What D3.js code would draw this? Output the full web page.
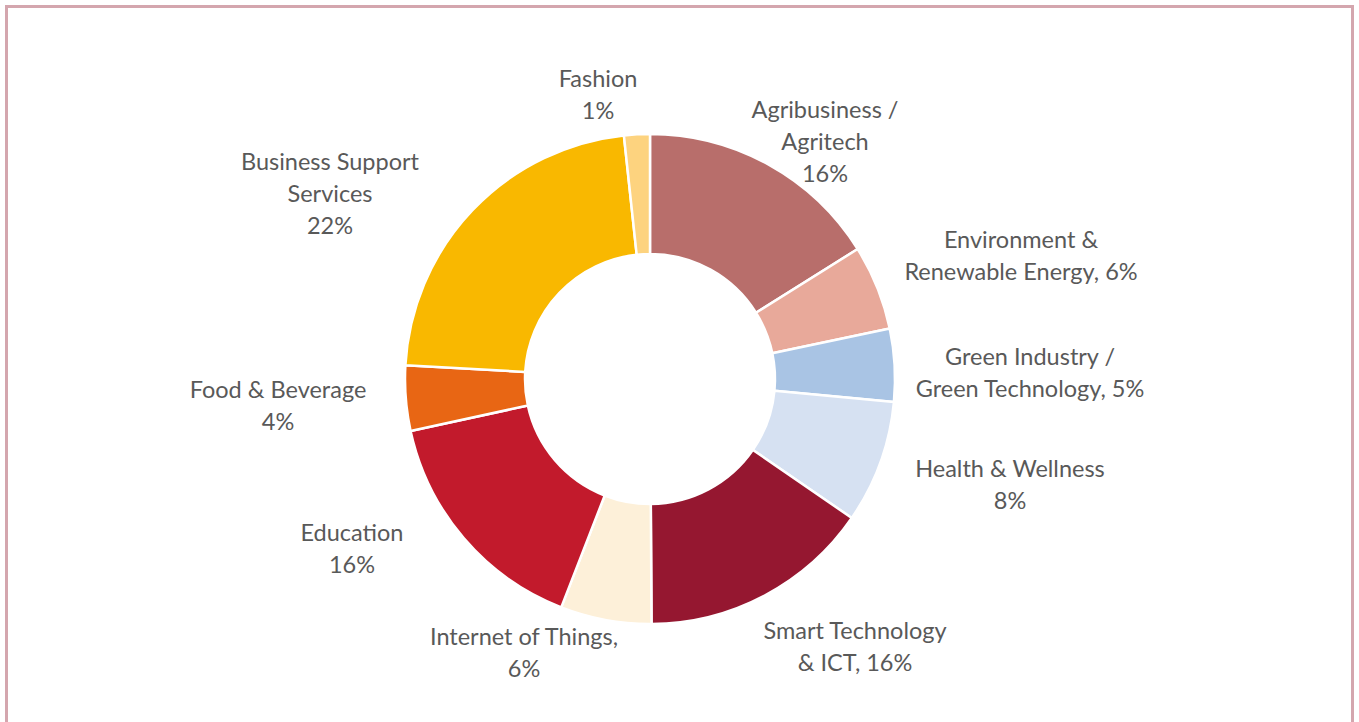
<!DOCTYPE html>
<html>
<head>
<meta charset="utf-8">
<script src="https://cdn.jsdelivr.net/npm/d3@7/dist/d3.min.js"></script>
<style>
html,body{margin:0;padding:0;background:#fff;}
svg{display:block;}
text{font-family:Lato,"Open Sans",sans-serif;}
</style>
</head>
<body>
<svg id="chart" width="1359" height="722"></svg>
<script>
// Data
const categories = ["Agribusiness / Agritech","Environment & Renewable Energy","Green Industry / Green Technology","Health & Wellness","Smart Technology & ICT","Internet of Things","Education","Food & Beverage","Business Support Services","Fashion"];
const shares = [16.1, 5.6, 4.8, 8.1, 15.3, 6.0, 15.7, 4.3, 22.4, 1.7];
const pctLabels = ["16%","6%","5%","8%","16%","6%","16%","4%","22%","1%"];
// Label line layout (text lines per slice)
const labelLines = [
  ["Agribusiness /","Agritech","16%"],
  ["Environment &","Renewable Energy, 6%"],
  ["Green Industry /","Green Technology, 5%"],
  ["Health & Wellness","8%"],
  ["Smart Technology","& ICT, 16%"],
  ["Internet of Things,","6%"],
  ["Education","16%"],
  ["Food & Beverage","4%"],
  ["Business Support","Services","22%"],
  ["Fashion","1%"]
];
const colors = ["#b86e6b","#e8a99a","#a9c4e4","#d6e1f2","#951730","#fdf0d9","#c21a2c","#e86614","#f9b800","#fdd37f"];
// label anchor positions relative to donut centre (layout, not data)
const labelPos = [[175,-237],[371,-123],[380,-6],[360,106],[205,268],[-126,274],[-298,170],[-372,27],[-320,-185],[-52,-284]];

const svg = d3.select("#chart");
const W = 1359, H = 722;
svg.append("rect").attr("x",6.5).attr("y",6.5).attr("width",W-13).attr("height",H+20)
  .attr("fill","#fff").attr("stroke","#d4a6ae").attr("stroke-width",3);

const cx = 650, cy = 379, R = 245, r0 = 125;
const g = svg.append("g").attr("transform",`translate(${cx},${cy})`);
const pie = d3.pie().sort(null).value(d=>d);
const arcs = pie(shares);
const arc = d3.arc().innerRadius(r0).outerRadius(R);
g.selectAll("path").data(arcs).enter().append("path")
  .attr("d",arc).attr("fill",(d,i)=>colors[i])
  .attr("stroke","#fff").attr("stroke-width",2.5).attr("stroke-linejoin","round");

const clip = svg.append("clipPath").attr("id","plotclip");
clip.append("rect").attr("x",0).attr("y",0).attr("width",1151).attr("height",H);
const lg = svg.append("g").attr("clip-path","url(#plotclip)");
const lineH = 32;
labelLines.forEach((lines,i)=>{
  const [dx,dy] = labelPos[i];
  const n = lines.length;
  const t = lg.append("text").attr("text-anchor","middle")
    .attr("font-size",23.5).attr("fill","#595959");
  lines.forEach((ln,k)=>{
    t.append("tspan").attr("x",cx+dx).attr("y",cy+dy+(k-(n-1)/2)*lineH+8).text(ln);
  });
});
</script>
</body>
</html>
